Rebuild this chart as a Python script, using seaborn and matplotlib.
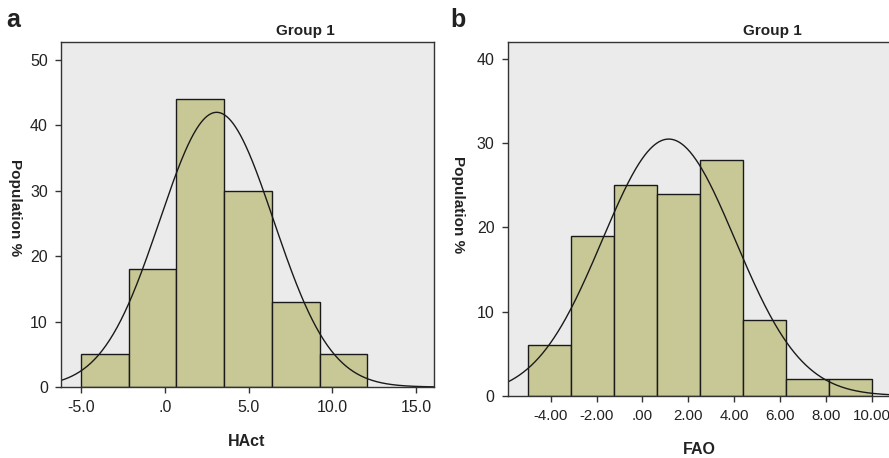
import numpy as np
import matplotlib
matplotlib.use("Agg")
import matplotlib.pyplot as plt
import seaborn as sns

# ---- data ----
hact_edges = [-5.0, -2.15, 0.70, 3.55, 6.40, 9.25, 12.10]
hact_pct = [5, 18, 44, 30, 13, 5]
hact_ticks = [-5.0, 0.0, 5.0, 10.0, 15.0]
hact_ticklabels = ["-5.0", ".0", "5.0", "10.0", "15.0"]
hact_yticks = [0, 10, 20, 30, 40, 50]
hact_norm = dict(mean=3.1, sd=3.4, peak=42.0)

fao_edges = [-5.0, -3.125, -1.25, 0.625, 2.5, 4.375, 6.25, 8.125, 10.0]
fao_pct = [6, 19, 25, 24, 28, 9, 2, 2]
fao_ticks = [-4, -2, 0, 2, 4, 6, 8, 10]
fao_ticklabels = ["-4.00", "-2.00", ".00", "2.00", "4.00", "6.00", "8.00", "10.00"]
fao_yticks = [0, 10, 20, 30, 40]
fao_norm = dict(mean=1.15, sd=2.9, peak=30.5)

BAR = "#C8C896"
BG = "#EBEBEB"
EDGE = "#1a1a1a"
TXT = "#222222"

sns.set_style("white")
plt.rcParams["font.family"] = ["Liberation Sans", "DejaVu Sans"]

fig = plt.figure(figsize=(8.89, 4.58), dpi=100)
W, H = 889, 458


def panel(rect, edges, pct, norm, xlim, ylim, xt, xtl, yt, xsize):
    ax = fig.add_axes(rect)
    ax.set_facecolor(BG)
    centers = [(a + b) / 2 for a, b in zip(edges[:-1], edges[1:])]
    sns.histplot(x=centers, weights=pct, bins=edges, stat="count",
                 color=BAR, edgecolor=EDGE, linewidth=1.0, alpha=1.0, ax=ax)
    xs = np.linspace(xlim[0], xlim[1], 400)
    ys = norm["peak"] * np.exp(-0.5 * ((xs - norm["mean"]) / norm["sd"]) ** 2)
    sns.lineplot(x=xs, y=ys, color=EDGE, linewidth=1.0, ax=ax)
    ax.set_xlim(*xlim)
    ax.set_ylim(*ylim)
    ax.set_xticks(xt)
    ax.set_xticklabels(xtl)
    ax.set_yticks(yt)
    ax.set_xlabel("")
    ax.set_ylabel("")
    ax.tick_params(axis="both", direction="out", length=4.5, width=1,
                   bottom=True, left=True, top=False, right=False,
                   colors="#333333", labelcolor=TXT, labelsize=11.5)
    ax.tick_params(axis="x", pad=5, labelsize=xsize)
    ax.tick_params(axis="y", pad=5)
    for s in ax.spines.values():
        s.set_color("#333333")
        s.set_linewidth(1.0)
    return ax


def px(x0, y0, x1, y1):
    return [x0 / W, 1 - y1 / H, (x1 - x0) / W, (y1 - y0) / H]


ax1 = panel(px(61, 42, 434, 387), hact_edges, hact_pct, hact_norm,
            (-6.19, 16.07), (0, 52.75), hact_ticks, hact_ticklabels, hact_yticks, 11.5)
ax2 = panel(px(507.7, 42.3, 895, 395.7), fao_edges, fao_pct, fao_norm,
            (-5.875, 11.02), (0, 42.0), fao_ticks, fao_ticklabels, fao_yticks, 10.8)

kw = dict(fontweight="bold", color=TXT, ha="center", va="center")
fig.text(13 / W, 1 - 20 / H, "a", fontsize=18, **kw)
fig.text(458 / W, 1 - 20 / H, "b", fontsize=18, **kw)
fig.text(305.5 / W, 1 - 30.5 / H, "Group 1", fontsize=11, **kw)
fig.text(772.5 / W, 1 - 30.5 / H, "Group 1", fontsize=11, **kw)
fig.text(15 / W, 1 - 208 / H, "Population %", fontsize=11, rotation=270, **kw)
fig.text(458 / W, 1 - 205 / H, "Population %", fontsize=11, rotation=270, **kw)
fig.text(247 / W, 1 - 442 / H, "HAct", fontsize=11.5, **kw)
fig.text(699 / W, 1 - 449 / H, "FAO", fontsize=11.5, **kw)

fig.savefig("out.png", dpi=100, facecolor="white")
